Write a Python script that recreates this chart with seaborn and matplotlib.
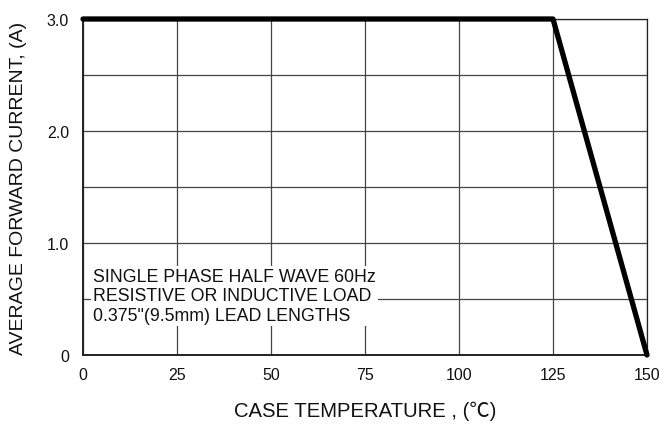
import matplotlib
matplotlib.use("Agg")
import matplotlib.pyplot as plt
import seaborn as sns
import pandas as pd

# derating curve
temp_c = [0, 125, 150]
current_a = [3.0, 3.0, 0.0]

x_ticks = [0, 25, 50, 75, 100, 125, 150]
y_ticks = [0, 1.0, 2.0, 3.0]
y_tick_labels = ["0", "1.0", "2.0", "3.0"]
y_grid = [0.5, 1.5, 2.5]

note_lines = [
    "SINGLE PHASE HALF WAVE 60Hz",
    "RESISTIVE OR INDUCTIVE LOAD",
    "0.375\"(9.5mm) LEAD LENGTHS",
]

sns.set_style("white")
plt.rcParams['font.family'] = ['Liberation Sans', 'Noto Sans CJK SC', 'DejaVu Sans']

df = pd.DataFrame({"temp": temp_c, "current": current_a})

fig = plt.figure(figsize=(6.6, 4.31), dpi=100)
ax = fig.add_axes([83 / 660, 1 - 356 / 431, 564 / 660, 336 / 431])

ax.set_xlim(0, 150)
ax.set_ylim(0, 3.0)
ax.set_xticks(x_ticks)
ax.set_yticks(y_ticks)
ax.set_yticklabels(y_tick_labels)
ax.set_yticks(y_grid, minor=True)
ax.grid(True, which="both", color="#444444", linewidth=0.9)
ax.tick_params(axis="both", which="both", length=0, labelsize=11.5, colors="#111111")
ax.tick_params(axis="x", pad=9)
ax.tick_params(axis="y", pad=10)

for side, sp in ax.spines.items():
    sp.set_visible(True)
    sp.set_color("#222222")
    sp.set_linewidth(0.9)
ax.spines["left"].set_linewidth(1.4)
ax.spines["bottom"].set_linewidth(1.4)

sns.lineplot(data=df, x="temp", y="current", ax=ax, color="black",
             linewidth=3.8, solid_capstyle="round", clip_on=False, zorder=5)

ax.text(2.6, 0.527, "\n".join(note_lines), fontsize=12.8, color="#111111",
        va="center", ha="left", linespacing=1.2, zorder=4,
        bbox=dict(facecolor="white", edgecolor="none", pad=1.5))

ax.set_xlabel("CASE TEMPERATURE , (\u2103)", fontsize=14.6, color="#111111", labelpad=13)
ax.set_ylabel("AVERAGE FORWARD CURRENT, (A)", fontsize=14, color="#111111", labelpad=14)

fig.savefig("out.png", dpi=100)
